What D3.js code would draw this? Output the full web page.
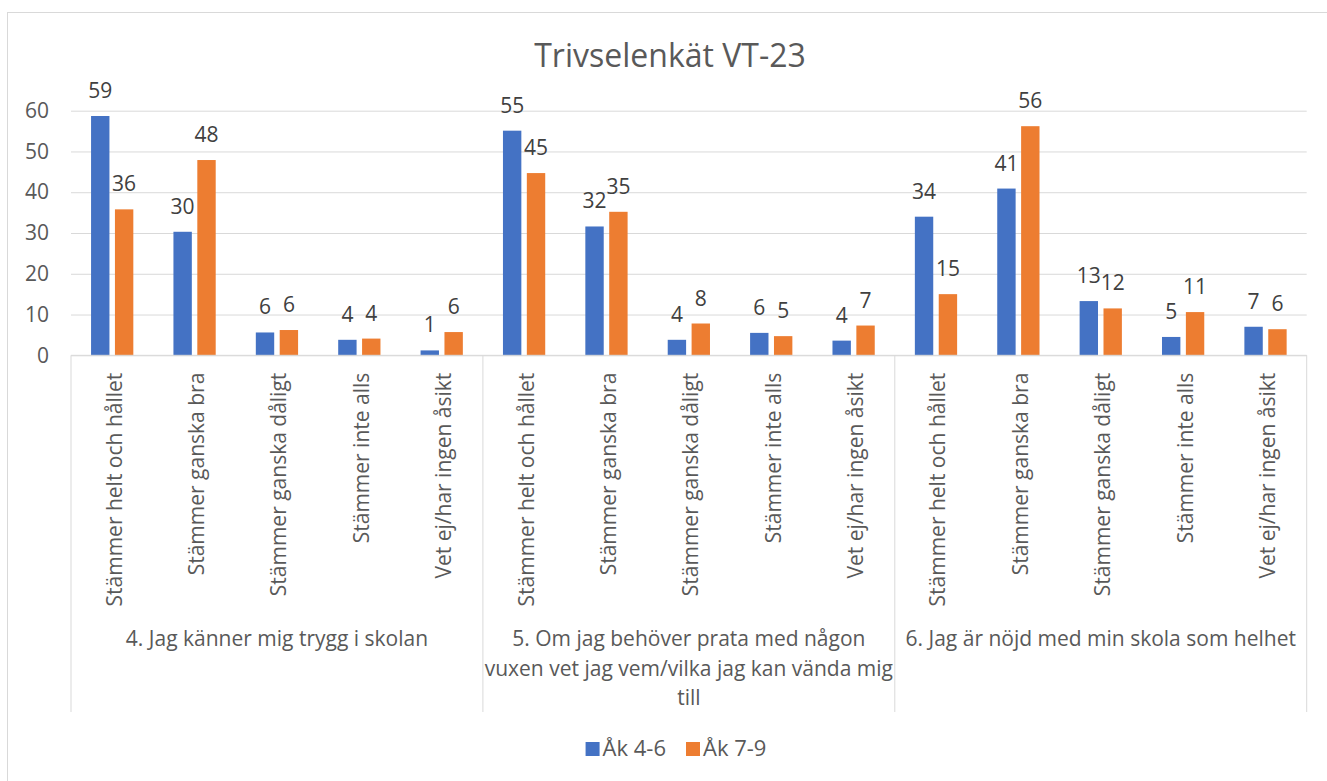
<!DOCTYPE html>
<html lang="sv">
<head>
<meta charset="UTF-8" />
<script src="https://d3js.org/d3.v7.min.js"></script>
<title>Trivselenkät VT-23</title>
<style>
  body { margin: 0; background: #fff; }
  svg text { font-family: "Open Sans", sans-serif; }
  .grid line { stroke: #d9d9d9; stroke-width: 1; }
  .grid .domain { display: none; }
  .ylab .domain { display: none; }
  .ylab text { fill: #595959; font-size: 21px; }
  .xlab .domain { display: none; }
  .xlab text { fill: #595959; font-size: 21px; }
  .frame { stroke: #d9d9d9; stroke-width: 1; fill: none; }
</style>
</head>
<body>
<script>
var width = 1327;
var height = 781;

var title = "Trivselenkät VT-23";
var series = ["Åk 4-6", "Åk 7-9"];
var colors = ["#4472C4", "#ED7D31"];
var answers = ["Stämmer helt och hållet", "Stämmer ganska bra", "Stämmer ganska dåligt",
               "Stämmer inte alls", "Vet ej/har ingen åsikt"];
var questions = [
  ["4. Jag känner mig trygg i skolan"],
  ["5. Om jag behöver prata med någon", "vuxen vet jag vem/vilka jag kan vända mig", "till"],
  ["6. Jag är nöjd med min skola som helhet"]
];
// values per answer, question 4, 5, 6 after each other
var ak46 = [58.7, 30.3, 5.6, 3.8, 1.2,   55.1, 31.6, 3.8, 5.5, 3.6,   34.0, 40.9, 13.3, 4.5, 7.0];
var ak79 = [35.8, 47.9, 6.2, 4.1, 5.7,   44.7, 35.2, 7.8, 4.7, 7.3,   15.0, 56.2, 11.5, 10.6, 6.4];
var yTicks = [0, 10, 20, 30, 40, 50, 60];

var plotL = 71, plotR = 1306.7, plotT = 110.7, plotB = 355.3, catB = 712;

var svg = d3.select("body").append("svg")
  .attr("width", width)
  .attr("height", height);

svg.append("rect").attr("x", 0).attr("y", 0).attr("width", width).attr("height", height).attr("fill", "#fff");
svg.append("rect").attr("class", "frame")
  .attr("x", 7.5).attr("y", 12.5).attr("width", 1400).attr("height", 900);

var cats = d3.range(answers.length * questions.length);

var x = d3.scaleBand().domain(cats).range([plotL, plotR]);
var xs = d3.scaleBand().domain(series).range([0, x.bandwidth()])
  .paddingInner(0.23).paddingOuter(0.84);
var y = d3.scaleLinear().domain([0, 60]).range([plotB, plotT]);

// gridlines
svg.append("g").attr("class", "grid")
  .attr("transform", "translate(" + plotL + ",0)")
  .call(d3.axisLeft(y).tickValues(yTicks).tickSize(-(plotR - plotL)).tickFormat(""));

// y labels
svg.append("g").attr("class", "ylab")
  .attr("transform", "translate(" + plotL + ",0)")
  .call(d3.axisLeft(y).tickValues(yTicks).tickSize(0).tickPadding(22));

// bars
var rows = [ak46, ak79];
series.forEach(function (s, k) {
  var g = svg.append("g");
  g.selectAll("rect").data(rows[k]).enter().append("rect")
    .attr("x", function (d, i) { return x(i) + xs(s); })
    .attr("y", function (d) { return y(d); })
    .attr("width", xs.bandwidth())
    .attr("height", function (d) { return y(0) - y(d); })
    .attr("fill", colors[k]);
  g.selectAll("text").data(rows[k]).enter().append("text")
    .attr("x", function (d, i) { return x(i) + xs(s) + xs.bandwidth() / 2; })
    .attr("y", function (d) { return y(d) - 18; })
    .attr("text-anchor", "middle")
    .attr("fill", "#404040")
    .style("font-size", "21px")
    .text(function (d) { return d3.format(".0f")(d); });
});

// category axis
svg.append("line")
  .attr("x1", plotL).attr("x2", plotR).attr("y1", plotB).attr("y2", plotB)
  .attr("stroke", "#d9d9d9");
svg.selectAll(".sep").data(d3.range(questions.length + 1)).enter().append("line")
  .attr("x1", function (d) { return plotL + d * answers.length * x.step(); })
  .attr("x2", function (d) { return plotL + d * answers.length * x.step(); })
  .attr("y1", plotB).attr("y2", catB)
  .attr("stroke", "#d9d9d9");

var xa = svg.append("g").attr("class", "xlab")
  .attr("transform", "translate(0," + plotB + ")")
  .call(d3.axisBottom(x).tickSize(0).tickFormat(function (i) { return answers[i % answers.length]; }));
xa.selectAll("text")
  .attr("transform", "rotate(-90)")
  .attr("text-anchor", "end")
  .attr("x", -17.4)
  .attr("y", 9.5)
  .attr("dy", 0);

// question labels
questions.forEach(function (lines, q) {
  var cx = plotL + (q + 0.5) * answers.length * x.step();
  var t = svg.append("text")
    .attr("text-anchor", "middle")
    .attr("fill", "#595959")
    .style("font-size", "21px");
  lines.forEach(function (l, j) {
    t.append("tspan").attr("x", cx).attr("y", 646 + j * 29.5).text(l);
  });
});

// title
svg.append("text")
  .attr("x", 670).attr("y", 66.7)
  .attr("text-anchor", "middle")
  .attr("fill", "#595959")
  .style("font-size", "32px")
  .text(title);

// legend
var lg = svg.append("g");
var items = lg.selectAll("g").data(series).enter().append("g");
items.append("rect").attr("width", 14).attr("height", 14).attr("y", 742)
  .attr("fill", function (d, i) { return colors[i]; });
items.append("text").attr("x", 17).attr("y", 755.7)
  .attr("fill", "#595959").style("font-size", "22px")
  .text(function (d) { return d; });
var pos = 0, offs = [];
items.each(function () {
  offs.push(pos);
  pos += 17 + this.querySelector("text").getComputedTextLength() + 20;
});
var total = pos - 20;
items.attr("transform", function (d, i) { return "translate(" + (676 - total / 2 + offs[i]) + ",0)"; });
</script>
</body>
</html>
